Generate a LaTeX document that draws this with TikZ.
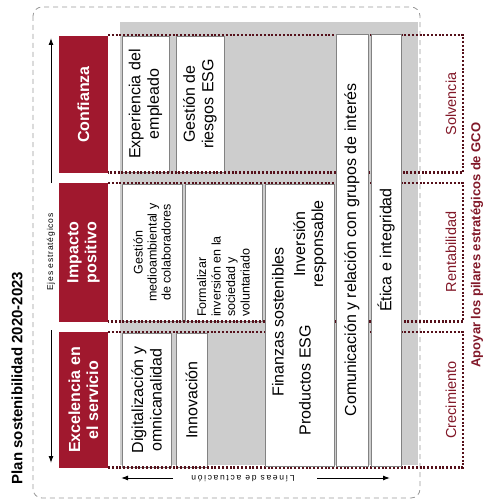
\documentclass[tikz,border=0pt]{standalone}
\usepackage{fontspec}
\setmainfont{Liberation Sans}
\newfontfamily\spacedfont[LetterSpace=20]{Liberation Sans}
\newfontfamily\spacedfontb[LetterSpace=10]{Liberation Sans}
\usetikzlibrary{arrows.meta}
\definecolor{gcored}{RGB}{160,24,46}
\definecolor{dotred}{RGB}{85,16,26}
\definecolor{labred}{RGB}{130,24,40}
\definecolor{bggray}{RGB}{205,205,205}
\definecolor{boxline}{RGB}{130,130,130}
\begin{document}
\begin{tikzpicture}[x=1pt,y=-1pt,
  redbox/.style={fill=gcored, draw=none, rotate=90, align=center, text=white,
    font=\fontsize{16}{18}\selectfont\bfseries, inner sep=0pt},
  colbox/.style={fill=white, draw=boxline, line width=0.7pt, rotate=90, align=center,
    font=\fontsize{16}{18.5}\selectfont, inner sep=0pt},
  smalltext/.style={rotate=90, inner sep=0pt, font=\fontsize{12.5}{14.5}\selectfont},
  coltext/.style={rotate=90, inner sep=0pt, align=center, font=\fontsize{16}{18}\selectfont},
  dotline/.style={draw=dotred, line width=2.2pt, dash pattern=on 2pt off 1.8pt},
  pillar/.style={rotate=90, text=labred, font=\fontsize{14.5}{17}\selectfont},
  axislabel/.style={inner sep=0pt, font=\spacedfont\fontsize{8.5}{10}\selectfont},
  axisarrow/.style={draw=black, line width=1pt, -{Latex[length=7pt,width=5pt]}}
]
\useasboundingbox (0,0) rectangle (484,500);

% outer dashed frame
\draw[gray!80, line width=0.8pt, dash pattern=on 5pt off 4pt, rounded corners=9pt]
  (33,7) rectangle (420,498);

% gray background
\fill[bggray] (120,22) rectangle (418,465);

% boxes inside rows
\node[colbox, minimum width=136pt, minimum height=47pt] (exp) at (145.5,104) {Experiencia del\\empleado};
\node[colbox, minimum width=136pt, minimum height=48pt] (gesr) at (200,104) {Gestión de\\riesgos ESG};
\node[colbox, minimum width=137pt, minimum height=60pt, font=\fontsize{12.5}{14}\selectfont] (gmed) at (152,252.5) {Gestión\\medioambiental y\\de colaboradores};
\node[colbox, minimum width=137pt, minimum height=77pt] (form) at (223.5,252.5) {};
\node[smalltext, anchor=west, align=left] (formt) at (223.5,317) {Formalizar\\inversión en la\\sociedad y\\voluntariado};
\node[colbox, minimum width=134pt, minimum height=49pt] (digi) at (146.5,400) {Digitalización y\\omnicanalidad};
\node[colbox, minimum width=134pt, minimum height=31pt] (inno) at (191.5,400) {Innovación};

% dotted row brackets
\draw[dotline] (108,35) -- (463,35) -- (463,172.5) -- (108,172.5);
\draw[dotline] (108,183) -- (463,183) -- (463,321.5) -- (108,321.5);
\draw[dotline] (108,332) -- (463,332) -- (463,467.5) -- (108,467.5);

% long boxes
\node[colbox, minimum width=282pt, minimum height=69pt] (fin) at (299.5,325) {};
\node[coltext] (fint) at (278,322) {Finanzas sostenibles};
\node[coltext] (prod) at (305,380) {Productos ESG};
\node[coltext] (inv) at (310,244) {Inversión\\responsable};
\node[colbox, minimum width=432pt, minimum height=32pt] (com) at (352,250) {Comunicación y relación con grupos de interés};
\node[colbox, minimum width=432pt, minimum height=30pt] (eti) at (386,250) {Ética e integridad};

% red axis boxes
\node[redbox, minimum width=137pt, minimum height=49pt] (conf) at (83.5,104.5) {Confianza};
\node[redbox, minimum width=139pt, minimum height=49pt] (imp) at (83.5,252.5) {Impacto\\positivo};
\node[redbox, minimum width=136pt, minimum height=49pt] (exc) at (83.5,400) {Excelencia en\\el servicio};

% vertical axis
\node[inner sep=0pt, font=\spacedfontb\fontsize{8.5}{10}\selectfont, rotate=90] (ejes) at (51,252) {Ejes estratégicos};
\coordinate (ejtop) at (51,38);
\coordinate (ejbot) at (51,463);
\draw[axisarrow] (51,183) -- (ejtop);
\draw[axisarrow] (51,330) -- (ejbot);

% horizontal axis
\node[axislabel, rotate=180] (lin) at (243,479) {Líneas de actuación};
\coordinate (linleft) at (121,478);
\coordinate (linright) at (390,478);
\draw[axisarrow] (173,478) -- (linleft);
\draw[axisarrow] (317,478) -- (linright);

% pillar labels
\node[pillar] (solv) at (451,104) {Solvencia};
\node[pillar] (rent) at (451,252) {Rentabilidad};
\node[pillar] (crec) at (451,400) {Crecimiento};
\node[rotate=90, text=labred, font=\fontsize{13}{15}\selectfont\bfseries] (apoyar) at (477,245) {Apoyar los pilares estratégicos de GCO};

% title
\node[rotate=90, font=\fontsize{15}{17}\selectfont\bfseries] (title) at (17,378) {Plan sostenibilidad 2020-2023};
\end{tikzpicture}
\end{document}
